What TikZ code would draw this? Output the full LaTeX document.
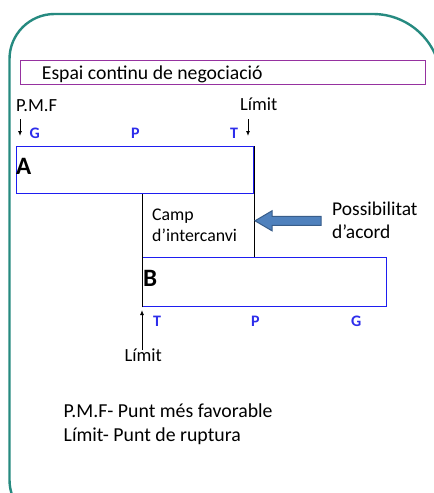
\documentclass[tikz,border=0pt]{standalone}
\usepackage{fontspec}
\setmainfont{Carlito}
\usetikzlibrary{arrows.meta,calc}
\definecolor{frameteal}{RGB}{38,138,128}
\definecolor{spacepurple}{RGB}{150,50,160}
\definecolor{barblue}{RGB}{30,30,240}
\definecolor{markblue}{RGB}{45,45,235}
\definecolor{arrowfill}{RGB}{79,129,189}
\definecolor{arrowedge}{RGB}{56,93,138}

\begin{document}
\begin{tikzpicture}[x=1pt,y=-1pt,
  lbl/.style={anchor=base west, inner sep=0pt, font=\fontsize{18.5}{20}\selectfont},
  small/.style={anchor=base west, inner sep=0pt, font=\fontsize{17.8}{19}\selectfont},
  ptmark/.style={anchor=base west, inner sep=0pt, text=markblue, font=\fontsize{16}{17}\selectfont\bfseries},
  party/.style={anchor=base west, inner sep=0pt, font=\fontsize{25}{27}\selectfont\bfseries},
  bar/.style={draw=barblue, line width=1.4pt, anchor=north west, inner sep=0pt},
  joint/.style={draw=black, line width=1pt},
  pointer/.style={draw=black, line width=0.9pt, -{Latex[length=5pt,width=4pt]}},
  blockarrow/.style={fill=arrowfill, draw=arrowedge, line width=1pt, line join=miter}
]
\useasboundingbox (0,0) rectangle (434,493);
\begin{scope}
\clip (0,0) rectangle (434,493);
% outer frame, running past the page edges
\draw[frameteal, line width=2.4pt]
  (200,525) -- (54.5,525) arc[start angle=90, end angle=180, radius=45]
  -- (9.5,59) arc[start angle=180, end angle=270, radius=45]
  -- (373,14) arc[start angle=270, end angle=360, radius=68]
  -- (441,200);
\end{scope}

% negotiation space band
\node[draw=spacepurple, line width=1.3pt, anchor=north west, inner sep=0pt,
      minimum width=405pt, minimum height=24pt] (space) at (20,60) {};
\node[lbl, font=\fontsize{19.7}{21}\selectfont] (spacetext) at (41.7,79) {Espai continu de negociació};

% party A
\node[bar, minimum width=237pt, minimum height=47pt] (boxA) at (16,146) {};
\node[party] (labA) at (16,174) {A};
\node[lbl] (pmf) at (16,111.5) {P.M.F};
\node[lbl] (limA) at (240,110) {Límit};
\node[ptmark] (gA) at (29.5,138) {G};
\node[ptmark] (pA) at (131,138) {P};
\node[ptmark] (tA) at (230,138) {T};
\coordinate (pmfTop) at (20,119);
\coordinate (pmfEnd) at (20,136);
\coordinate (limATop) at (248,119);
\coordinate (limAEnd) at (248,136);
\draw[pointer] (pmfTop) -- (pmfEnd);
\draw[pointer] (limATop) -- (limAEnd);

% party B
\node[bar, minimum width=244pt, minimum height=49pt] (boxB) at (142,257) {};
\node[party] (labB) at (143,286.5) {B};
\node[ptmark] (tB) at (153,326.5) {T};
\node[ptmark] (pB) at (251,326.5) {P};
\node[ptmark] (gB) at (351,326.5) {G};
\node[lbl] (limB) at (124.5,361.5) {Límit};
\coordinate (limBStart) at (142,350);
\coordinate (limBEnd) at (142,310);
\draw[pointer] (limBStart) -- (limBEnd);

% exchange field between the two limits
\draw[joint] (boxB.south west) -- (boxB.south west |- boxA.south);
\draw[joint] (boxA.north east) -- (boxA.north east |- boxB.north);
\node[small] (camp1) at (152,220.7) {Camp};
\node[small] (camp2) at (152,241) {d’intercanvi};

% agreement arrow
\coordinate (tip) at (255,220.8);
\draw[blockarrow] (tip) -- (272,210.8) -- (272,216.3) -- (321,216.3)
  -- (321,225.3) -- (272,225.3) -- (272,230.8) -- cycle;
\node[lbl, font=\fontsize{19.5}{21}\selectfont] (poss1) at (332,215) {Possibilitat};
\node[lbl, font=\fontsize{19.5}{21}\selectfont] (poss2) at (332,238) {d’acord};

% legend
\node[lbl, font=\fontsize{19.8}{21}\selectfont] (leg1) at (63.5,417.3) {P.M.F- Punt més favorable};
\node[lbl, font=\fontsize{19.8}{21}\selectfont] (leg2) at (63.5,441.7) {Límit- Punt de ruptura};
\end{tikzpicture}
\end{document}
